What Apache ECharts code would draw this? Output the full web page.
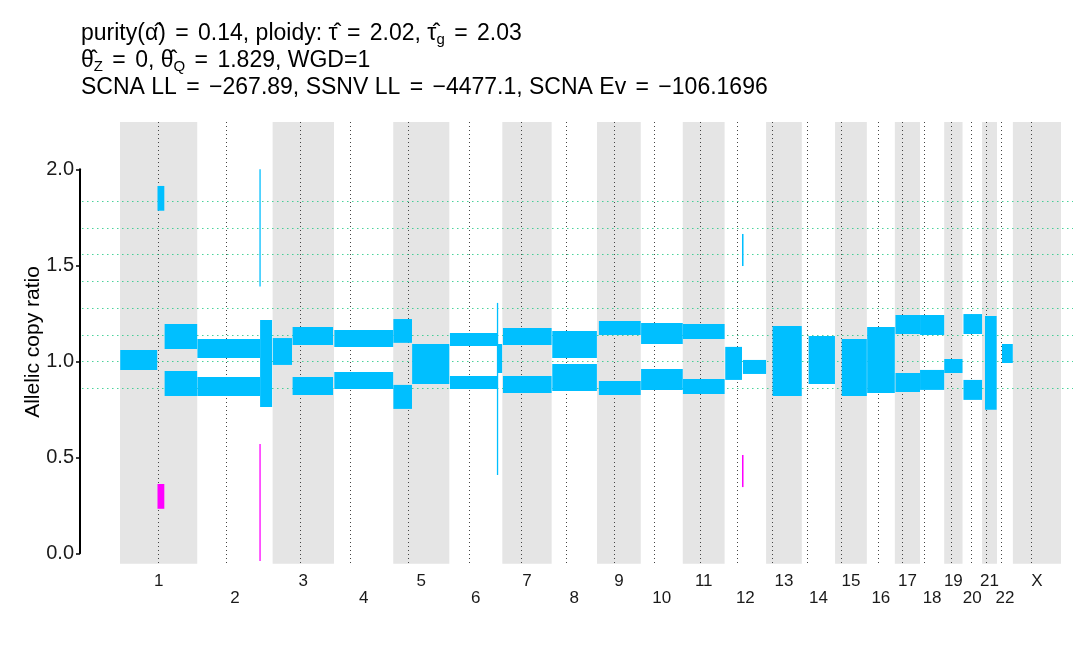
<!DOCTYPE html>
<html><head><meta charset="utf-8">
<script src="https://cdn.jsdelivr.net/npm/echarts@6/dist/echarts.min.js"></script>
<style>html,body{margin:0;padding:0;background:#fff}#c{width:1075px;height:657px}</style>
</head><body><div id="c"></div>
<script>
// ---- data ----
const chromNames = ['1','2','3','4','5','6','7','8','9','10','11','12','13','14','15','16','17','18','19','20','21','22','X'];
const chromLengths = [249.25,243.20,198.02,191.15,180.92,171.12,159.14,146.36,141.21,135.53,135.01,133.85,115.17,107.35,102.53,90.35,81.20,78.08,59.13,63.03,48.13,51.30,155.27];
const centromeres = [123.0,92.0,89.5,50.5,48.5,62.0,60.5,47.0,55.0,42.0,55.5,38.5,18.0,17.8,18.5,37.5,21.5,14.0,23.5,27.5,12.0,11.5,57.0];
const cnLevels = [0.860,1.000,1.139,1.278,1.417,1.557,1.696,1.835];
const yTicks = [0,0.5,1.0,1.5,2.0];
// [chromosome, start Mb, end Mb, lower, upper]
const cyanSegments = [
  ['1',0.8,120,0.955,1.059],['1',121,143,1.784,1.913],['1',144,249,1.064,1.194],['1',144,249,0.819,0.949],
  ['2',0.5,202.5,1.017,1.116],['2',0.5,202.5,0.819,0.918],['2',202.5,202.8,1.39,2.0],['2',202.8,241.5,0.762,1.215],
  ['3',0.5,62.5,0.981,1.121],['3',64.5,195,1.085,1.179],['3',64.5,195,0.825,0.918],
  ['4',1,191,1.075,1.163],['4',1,191,0.856,0.944],
  ['5',0.5,60.5,1.096,1.220],['5',0.5,60.5,0.752,0.877],['5',61,180.9,0.882,1.090],
  ['6',2,155.5,1.080,1.147],['6',2,155.5,0.856,0.923],['6',155.5,155.8,0.408,1.304],['6',156,170.5,0.939,1.090],
  ['7',2,159,1.085,1.173],['7',2,159,0.835,0.923],
  ['8',2,146,1.017,1.158],['8',2,146,0.845,0.986],
  ['9',6,141,1.137,1.210],['9',6,141,0.825,0.897],
  ['10',1,135.5,1.090,1.200],['10',1,135.5,0.851,0.960],
  ['11',0.5,135,1.116,1.194],['11',0.5,135,0.830,0.908],
  ['12',2,56,0.903,1.075],['12',56,61,1.496,1.663],['12',59,133.8,0.934,1.007],
  ['13',21,115,0.819,1.184],
  ['14',22,107,0.882,1.132],
  ['15',21.5,102.5,0.819,1.116],
  ['16',1,90.3,0.835,1.179],
  ['17',2,81.2,1.142,1.241],['17',2,81.2,0.840,0.939],
  ['18',0.1,78,1.137,1.241],['18',0.1,78,0.851,0.955],
  ['19',0.2,59,0.939,1.012],
  ['20',3,63,1.142,1.246],['20',3,63,0.799,0.903],
  ['21',9.4,47,0.747,1.236],
  ['22',16,51,0.991,1.090]
];
const magentaSegments = [
  ['1',121,143,0.232,0.361],
  ['2',202.5,202.8,-0.04,0.569],
  ['12',56,61,0.345,0.512]
];
const titleLines = [
  '{t|purity(α̂) }{e|=}{t| 0.14, ploidy: τ̂ }{e|=}{t| 2.02, τ̂}{s|g}{t| }{e|=}{t| 2.03}',
  '{t|θ̂}{s|Z}{t| }{e|=}{t| 0, θ̂}{s|Q}{t| }{e|=}{t| 1.829, WGD=1}',
  '{t|SCNA LL }{e|=}{t| −267.89, SSNV LL }{e|=}{t| −4477.1, SCNA Ev }{e|=}{t| −106.1696}'
];
const yAxisTitle = 'Allelic copy ratio';

// ---- derived ----
const offsets = [];
let acc = 0;
chromLengths.forEach(l => { offsets.push(acc); acc += l; });
const genomeLen = acc;
const chromIndex = {};
chromNames.forEach((n, i) => chromIndex[n] = i);
const toAbs = s => [offsets[chromIndex[s[0]]] + s[1], offsets[chromIndex[s[0]]] + s[2], s[3], s[4]];

const X_MIN = -122.6, X_MAX = genomeLen + 38.7;
const Y_MIN = -0.054, Y_MAX = 2.246;
const FONT = '"Liberation Sans", Arial, Helvetica, sans-serif';

const chart = echarts.init(document.getElementById('c'), null, {renderer: 'canvas'});

function segRender(color) {
  return function (params, api) {
    const p0 = api.coord([api.value(0), api.value(3)]);
    const p1 = api.coord([api.value(1), api.value(2)]);
    let w = p1[0] - p0[0];
    let x = p0[0];
    if (w < 1.3) { x = x - (1.3 - w) / 2; w = 1.3; }
    return {type: 'rect', shape: {x: x, y: p0[1], width: w, height: p1[1] - p0[1]}, style: {fill: color}};
  };
}

const titleRich = {
  t: {fontSize: 23, fontFamily: FONT, fill: '#000', lineHeight: 27},
  e: {fontSize: 23, fontFamily: FONT, fill: '#000', lineHeight: 27, padding: [0, 3]},
  s: {fontSize: 15, fontFamily: FONT, fill: '#000', lineHeight: 10, verticalAlign: 'bottom'}
};

const option = {
  animation: false,
  backgroundColor: '#fff',
  grid: [
    {left: 82, right: 2, top: 122, bottom: 93.3},
    {left: 80, width: 10, top: 169.3, bottom: 103.7}
  ],
  xAxis: [
    {type: 'value', gridIndex: 0, min: X_MIN, max: X_MAX, show: false},
    {type: 'value', gridIndex: 1, min: 0, max: 1, show: false}
  ],
  yAxis: [
    {type: 'value', gridIndex: 0, min: Y_MIN, max: Y_MAX, show: false},
    {type: 'value', gridIndex: 1, min: yTicks[0], max: yTicks[yTicks.length - 1], interval: 0.5,
     axisLine: {show: true, lineStyle: {color: '#000', width: 2}},
     axisTick: {show: true, length: 4, lineStyle: {color: '#000', width: 1.5}},
     axisLabel: {fontSize: 20, fontFamily: FONT, color: '#1a1a1a', margin: 6, formatter: v => v.toFixed(1)},
     splitLine: {show: false}}
  ],
  graphic: [
    {type: 'text', left: 81, top: 22, style: {text: titleLines[0], rich: titleRich}},
    {type: 'text', left: 81, top: 49, style: {text: titleLines[1], rich: titleRich}},
    {type: 'text', left: 81, top: 76, style: {text: titleLines[2], rich: titleRich}},
    {type: 'text', x: 33, y: 342, rotation: Math.PI / 2, style: {text: yAxisTitle, fontSize: 21, fontFamily: FONT, fill: '#000', align: 'center', verticalAlign: 'middle'}}
  ],
  series: [
    { // chromosome bands
      type: 'custom', xAxisIndex: 0, yAxisIndex: 0, silent: true, z: 1,
      data: chromNames.map((n, i) => [i]).filter(d => d[0] % 2 === 0),
      renderItem: function (params, api) {
        const i = api.value(0);
        const a = api.coord([offsets[i], Y_MAX]);
        const b = api.coord([offsets[i] + chromLengths[i], Y_MIN]);
        return {type: 'rect', shape: {x: a[0], y: a[1], width: b[0] - a[0], height: b[1] - a[1]}, style: {fill: '#E5E5E5'}};
      }
    },
    { // centromere lines
      type: 'custom', xAxisIndex: 0, yAxisIndex: 0, silent: true, z: 2,
      data: centromeres.map((c, i) => [offsets[i] + c]),
      renderItem: function (params, api) {
        const a = api.coord([api.value(0), Y_MAX]);
        const b = api.coord([api.value(0), Y_MIN]);
        const x = Math.round(a[0]) + 0.5;
        return {type: 'line', shape: {x1: x, y1: a[1], x2: x, y2: b[1]}, style: {stroke: '#444', lineWidth: 1, lineDash: [1, 3]}};
      }
    },
    { // copy-number level lines
      type: 'custom', xAxisIndex: 0, yAxisIndex: 0, silent: true, z: 3,
      data: cnLevels.map(v => [v]),
      renderItem: function (params, api) {
        const a = api.coord([X_MIN, api.value(0)]);
        const b = api.coord([X_MAX, api.value(0)]);
        const y = Math.round(a[1]) + 0.5;
        return {type: 'line', shape: {x1: a[0], y1: y, x2: b[0], y2: y}, style: {stroke: 'rgba(30,200,130,0.8)', lineWidth: 1.2, lineDash: [1.5, 3.5]}};
      }
    },
    {
      type: 'custom', xAxisIndex: 0, yAxisIndex: 0, silent: true, z: 4,
      data: cyanSegments.map(toAbs),
      renderItem: segRender('#00BFFF')
    },
    {
      type: 'custom', xAxisIndex: 0, yAxisIndex: 0, silent: true, z: 5,
      data: magentaSegments.map(toAbs),
      renderItem: segRender('#FF00FF')
    },
    { // chromosome labels
      type: 'custom', xAxisIndex: 0, yAxisIndex: 0, silent: true, z: 6, clip: false,
      data: chromNames.map((n, i) => [offsets[i] + chromLengths[i] / 2, i]),
      renderItem: function (params, api) {
        const i = api.value(1);
        const p = api.coord([api.value(0), Y_MIN]);
        return {type: 'text', x: p[0], y: p[1] + (i % 2 === 0 ? 18 : 35),
          style: {text: chromNames[i], fontSize: 17, fontFamily: FONT, fill: '#1a1a1a', align: 'center', verticalAlign: 'middle'}};
      }
    }
  ]
};
chart.setOption(option);
</script>
</body></html>
